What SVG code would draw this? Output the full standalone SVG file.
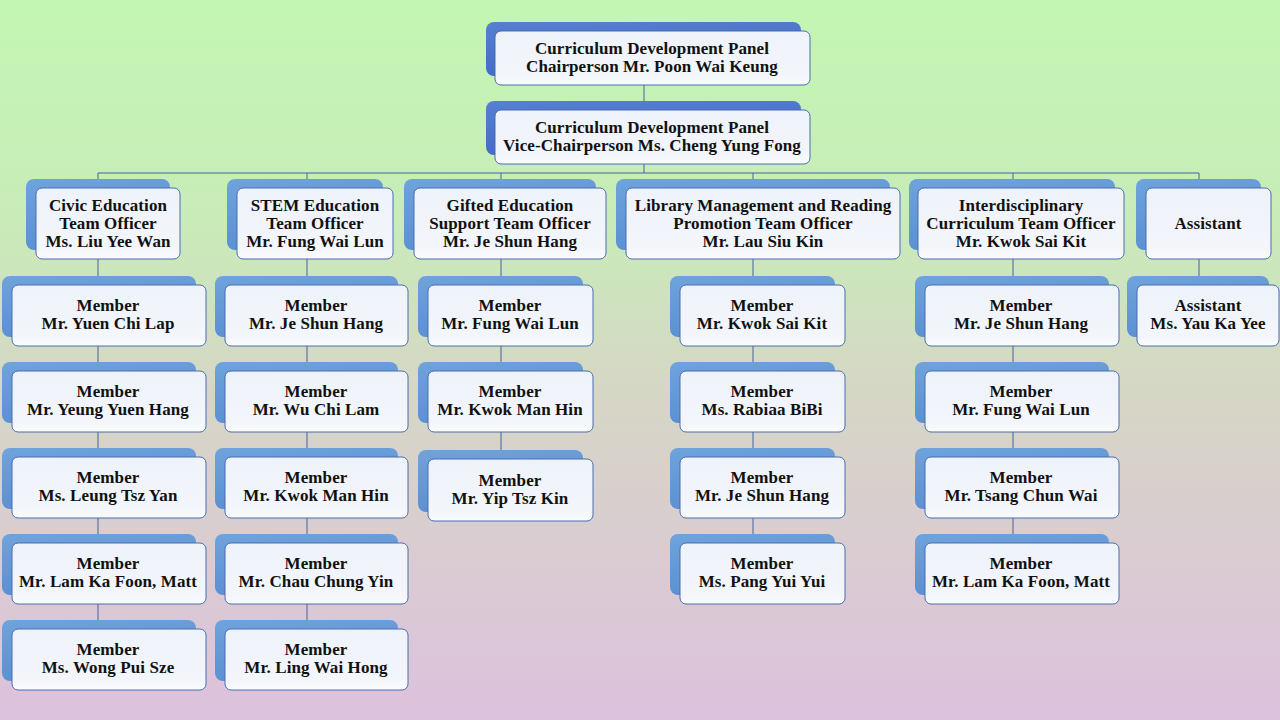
<svg xmlns="http://www.w3.org/2000/svg" width="1280" height="720" viewBox="0 0 1280 720">
<defs>
<linearGradient id="bg" x1="0" y1="0" x2="0" y2="1">
<stop offset="0" stop-color="#c3f6b3"/>
<stop offset="0.3" stop-color="#c8ecb8"/>
<stop offset="0.55" stop-color="#d6d6c6"/>
<stop offset="1" stop-color="#ddc1dd"/>
</linearGradient>
<linearGradient id="back" x1="0" y1="0" x2="0.3" y2="1">
<stop offset="0" stop-color="#6fa3dc"/>
<stop offset="1" stop-color="#5a8fd2"/>
</linearGradient>
<linearGradient id="backTop" x1="0" y1="0" x2="0.3" y2="1">
<stop offset="0" stop-color="#5680d2"/>
<stop offset="1" stop-color="#4569c4"/>
</linearGradient>
<linearGradient id="front" x1="0" y1="0" x2="0" y2="1">
<stop offset="0" stop-color="#eef2fa"/>
<stop offset="0.85" stop-color="#f3f6fb"/>
<stop offset="1" stop-color="#fafbfd"/>
</linearGradient>
</defs>
<style>
.b{fill:url(#back)}
.bt{fill:url(#backTop)}
.f{fill:url(#front);stroke:#4a6cb0;stroke-width:1}
.t{font-family:"Liberation Serif","Times New Roman",serif;font-weight:bold;font-size:17px;letter-spacing:0.1px;fill:#111;text-anchor:middle}
.c{stroke:#4262a3;stroke-width:1;fill:none}
</style>
<rect width="1280" height="720" fill="url(#bg)"/>
<g id="connectors">
<path class="c" d="M644 85V110M644 164V173M98 173H1199M98 173V629M307 173V629M501 173V459M753 173V543M1013 173V543M1199 173V285"/>
</g>
<g id="chair"><rect class="bt" x="486" y="22" width="315" height="54" rx="8"/><rect class="f" x="495" y="31" width="315" height="54" rx="6"/><text class="t" x="652" y="54">Curriculum Development Panel</text><text class="t" x="652" y="72">Chairperson Mr. Poon Wai Keung</text></g>
<g id="vice"><rect class="bt" x="486" y="101" width="315" height="54" rx="8"/><rect class="f" x="495" y="110" width="315" height="54" rx="6"/><text class="t" x="652" y="133">Curriculum Development Panel</text><text class="t" x="652" y="151">Vice-Chairperson Ms. Cheng Yung Fong</text></g>
<g id="civic"><rect class="b" x="26" y="179" width="144" height="71" rx="8"/><rect class="f" x="36" y="188" width="144" height="71" rx="6"/><text class="t" x="108" y="211">Civic Education</text><text class="t" x="108" y="229">Team Officer</text><text class="t" x="108" y="247">Ms. Liu Yee Wan</text></g>
<g id="stem"><rect class="b" x="227" y="179" width="156" height="71" rx="8"/><rect class="f" x="237" y="188" width="156" height="71" rx="6"/><text class="t" x="315" y="211">STEM Education</text><text class="t" x="315" y="229">Team Officer</text><text class="t" x="315" y="247">Mr. Fung Wai Lun</text></g>
<g id="gifted"><rect class="b" x="404" y="179" width="192" height="71" rx="8"/><rect class="f" x="414" y="188" width="192" height="71" rx="6"/><text class="t" x="510" y="211">Gifted Education</text><text class="t" x="510" y="229">Support Team Officer</text><text class="t" x="510" y="247">Mr. Je Shun Hang</text></g>
<g id="library"><rect class="b" x="616" y="179" width="274" height="71" rx="8"/><rect class="f" x="626" y="188" width="274" height="71" rx="6"/><text class="t" x="763" y="211">Library Management and Reading</text><text class="t" x="763" y="229">Promotion Team Officer</text><text class="t" x="763" y="247">Mr. Lau Siu Kin</text></g>
<g id="inter"><rect class="b" x="909" y="179" width="206" height="71" rx="8"/><rect class="f" x="918" y="188" width="206" height="71" rx="6"/><text class="t" x="1021" y="211">Interdisciplinary</text><text class="t" x="1021" y="229">Curriculum Team Officer</text><text class="t" x="1021" y="247">Mr. Kwok Sai Kit</text></g>
<g id="assistant"><rect class="b" x="1136" y="179" width="125" height="71" rx="8"/><rect class="f" x="1146" y="188" width="125" height="71" rx="6"/><text class="t" x="1208" y="229">Assistant</text></g>

<g id="civic-m1"><rect class="b" x="2" y="276" width="194" height="61" rx="8"/><rect class="f" x="12" y="285" width="194" height="61" rx="6"/><text class="t" x="108" y="311">Member</text><text class="t" x="108" y="329">Mr. Yuen Chi Lap</text></g>
<g id="civic-m2"><rect class="b" x="2" y="362" width="194" height="61" rx="8"/><rect class="f" x="12" y="371" width="194" height="61" rx="6"/><text class="t" x="108" y="397">Member</text><text class="t" x="108" y="415">Mr. Yeung Yuen Hang</text></g>
<g id="civic-m3"><rect class="b" x="2" y="448" width="194" height="61" rx="8"/><rect class="f" x="12" y="457" width="194" height="61" rx="6"/><text class="t" x="108" y="483">Member</text><text class="t" x="108" y="501">Ms. Leung Tsz Yan</text></g>
<g id="civic-m4"><rect class="b" x="2" y="534" width="194" height="61" rx="8"/><rect class="f" x="12" y="543" width="194" height="61" rx="6"/><text class="t" x="108" y="569">Member</text><text class="t" x="108" y="587">Mr. Lam Ka Foon, Matt</text></g>
<g id="civic-m5"><rect class="b" x="2" y="620" width="194" height="61" rx="8"/><rect class="f" x="12" y="629" width="194" height="61" rx="6"/><text class="t" x="108" y="655">Member</text><text class="t" x="108" y="673">Ms. Wong Pui Sze</text></g>

<g id="stem-m1"><rect class="b" x="215" y="276" width="183" height="61" rx="8"/><rect class="f" x="225" y="285" width="183" height="61" rx="6"/><text class="t" x="316" y="311">Member</text><text class="t" x="316" y="329">Mr. Je Shun Hang</text></g>
<g id="stem-m2"><rect class="b" x="215" y="362" width="183" height="61" rx="8"/><rect class="f" x="225" y="371" width="183" height="61" rx="6"/><text class="t" x="316" y="397">Member</text><text class="t" x="316" y="415">Mr. Wu Chi Lam</text></g>
<g id="stem-m3"><rect class="b" x="215" y="448" width="183" height="61" rx="8"/><rect class="f" x="225" y="457" width="183" height="61" rx="6"/><text class="t" x="316" y="483">Member</text><text class="t" x="316" y="501">Mr. Kwok Man Hin</text></g>
<g id="stem-m4"><rect class="b" x="215" y="534" width="183" height="61" rx="8"/><rect class="f" x="225" y="543" width="183" height="61" rx="6"/><text class="t" x="316" y="569">Member</text><text class="t" x="316" y="587">Mr. Chau Chung Yin</text></g>
<g id="stem-m5"><rect class="b" x="215" y="620" width="183" height="61" rx="8"/><rect class="f" x="225" y="629" width="183" height="61" rx="6"/><text class="t" x="316" y="655">Member</text><text class="t" x="316" y="673">Mr. Ling Wai Hong</text></g>

<g id="gifted-m1"><rect class="b" x="418" y="276" width="165" height="61" rx="8"/><rect class="f" x="428" y="285" width="165" height="61" rx="6"/><text class="t" x="510" y="311">Member</text><text class="t" x="510" y="329">Mr. Fung Wai Lun</text></g>
<g id="gifted-m2"><rect class="b" x="418" y="362" width="165" height="61" rx="8"/><rect class="f" x="428" y="371" width="165" height="61" rx="6"/><text class="t" x="510" y="397">Member</text><text class="t" x="510" y="415">Mr. Kwok Man Hin</text></g>
<g id="gifted-m3"><rect class="b" x="418" y="450" width="165" height="62" rx="8"/><rect class="f" x="428" y="459" width="165" height="62" rx="6"/><text class="t" x="510" y="486">Member</text><text class="t" x="510" y="504">Mr. Yip Tsz Kin</text></g>

<g id="library-m1"><rect class="b" x="670" y="276" width="165" height="61" rx="8"/><rect class="f" x="680" y="285" width="165" height="61" rx="6"/><text class="t" x="762" y="311">Member</text><text class="t" x="762" y="329">Mr. Kwok Sai Kit</text></g>
<g id="library-m2"><rect class="b" x="670" y="362" width="165" height="61" rx="8"/><rect class="f" x="680" y="371" width="165" height="61" rx="6"/><text class="t" x="762" y="397">Member</text><text class="t" x="762" y="415">Ms. Rabiaa BiBi</text></g>
<g id="library-m3"><rect class="b" x="670" y="448" width="165" height="61" rx="8"/><rect class="f" x="680" y="457" width="165" height="61" rx="6"/><text class="t" x="762" y="483">Member</text><text class="t" x="762" y="501">Mr. Je Shun Hang</text></g>
<g id="library-m4"><rect class="b" x="670" y="534" width="165" height="61" rx="8"/><rect class="f" x="680" y="543" width="165" height="61" rx="6"/><text class="t" x="762" y="569">Member</text><text class="t" x="762" y="587">Ms. Pang Yui Yui</text></g>

<g id="inter-m1"><rect class="b" x="915" y="276" width="194" height="61" rx="8"/><rect class="f" x="925" y="285" width="194" height="61" rx="6"/><text class="t" x="1021" y="311">Member</text><text class="t" x="1021" y="329">Mr. Je Shun Hang</text></g>
<g id="inter-m2"><rect class="b" x="915" y="362" width="194" height="61" rx="8"/><rect class="f" x="925" y="371" width="194" height="61" rx="6"/><text class="t" x="1021" y="397">Member</text><text class="t" x="1021" y="415">Mr. Fung Wai Lun</text></g>
<g id="inter-m3"><rect class="b" x="915" y="448" width="194" height="61" rx="8"/><rect class="f" x="925" y="457" width="194" height="61" rx="6"/><text class="t" x="1021" y="483">Member</text><text class="t" x="1021" y="501">Mr. Tsang Chun Wai</text></g>
<g id="inter-m4"><rect class="b" x="915" y="534" width="194" height="61" rx="8"/><rect class="f" x="925" y="543" width="194" height="61" rx="6"/><text class="t" x="1021" y="569">Member</text><text class="t" x="1021" y="587">Mr. Lam Ka Foon, Matt</text></g>

<g id="assistant-m1"><rect class="b" x="1127" y="276" width="142" height="61" rx="8"/><rect class="f" x="1137" y="285" width="142" height="61" rx="6"/><text class="t" x="1208" y="311">Assistant</text><text class="t" x="1208" y="329">Ms. Yau Ka Yee</text></g>
</svg>
